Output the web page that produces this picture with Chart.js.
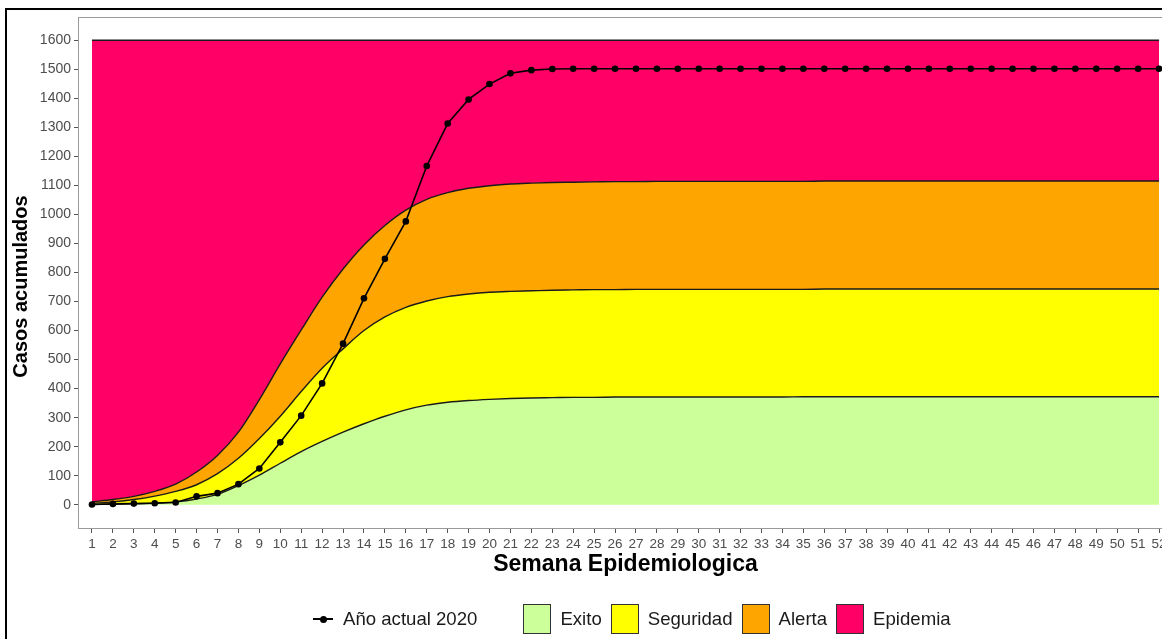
<!DOCTYPE html>
<html>
<head>
<meta charset="utf-8">
<script src="https://cdn.jsdelivr.net/npm/chart.js@4.4.1/dist/chart.umd.min.js"></script>
<style>
  html, body { margin:0; padding:0; background:#fff; overflow:hidden; width:1162px; height:639px; }
  #frame { position:absolute; left:5px; top:8px; width:1300px; height:800px; border:2px solid #000; box-sizing:border-box; }
  #wrap { position:absolute; left:0; top:0; width:1200px; height:639px; }
  #legend { position:absolute; top:604px; left:313px; height:30px; display:flex; align-items:center;
            font-family:"Liberation Sans", Arial, sans-serif; font-size:18.6px; color:#1a1a1a; white-space:nowrap; }
  .lsym { position:relative; width:20px; height:30px; margin-right:10px; }
  .lsym:before { content:""; position:absolute; left:0; right:0; top:14px; height:1.5px; background:#000; }
  .lsym:after { content:""; position:absolute; left:6.5px; top:11.5px; width:7px; height:7px; border-radius:50%; background:#000; }
  .box { width:28px; height:30px; border:1.5px solid #333; box-sizing:border-box; margin-right:9px; }
  .txt { margin-right:9px; }
  .txt0 { margin-right:46px; }
</style>
</head>
<body>
<div id="frame"></div>
<div id="wrap"><canvas id="c" width="1200" height="639"></canvas></div>
<div id="legend"></div>
<script>
// ---- data ----
const weeks = [1,2,3,4,5,6,7,8,9,10,11,12,13,14,15,16,17,18,19,20,21,22,23,24,25,26,
               27,28,29,30,31,32,33,34,35,36,37,38,39,40,41,42,43,44,45,46,47,48,49,50,51,52];
const exito = [1,2,4,6,10,20,36,66,102,143,183,218,250,279,305,327,343,353,359,363,366,368,369,370,370,371,
               371,371,371,371,371,371,371,371,372,372,372,372,372,372,372,372,372,372,372,372,372,372,372,372,372,372];
const seguridad = [5,10,18,30,46,69,107,160,228,305,390,470,537,600,647,680,702,717,726,732,735,737,739,740,741,741,
                   742,742,742,742,742,742,742,742,742,743,743,743,743,743,743,743,743,743,743,743,743,743,743,743,743,743];
const alerta = [10,18,29,46,71,113,170,250,362,485,602,715,812,895,962,1015,1052,1075,1090,1099,1105,1108,1110,1111,1112,1113,
                1113,1114,1114,1114,1114,1114,1114,1114,1114,1115,1115,1115,1115,1115,1115,1115,1115,1115,1115,1115,1115,1115,1115,1115,1115,1115];
const epidemia = [1600,1600,1600,1600,1600,1600,1600,1600,1600,1600,1600,1600,1600,1600,1600,1600,1600,1600,1600,1600,1600,1600,1600,1600,1600,1600,
                  1600,1600,1600,1600,1600,1600,1600,1600,1600,1600,1600,1600,1600,1600,1600,1600,1600,1600,1600,1600,1600,1600,1600,1600,1600,1600];
const actual2020 = [1,3,4,5,8,29,40,71,125,215,307,418,555,711,847,976,1167,1313,1396,1449,1486,1497,1501,1502,1502,1502,
                    1502,1502,1502,1502,1502,1502,1502,1502,1502,1502,1502,1502,1502,1502,1502,1502,1502,1502,1502,1502,1502,1502,1502,1502,1502,1502];
const yTicks = [0,100,200,300,400,500,600,700,800,900,1000,1100,1200,1300,1400,1500,1600];
const bandNames = ['Exito','Seguridad','Alerta','Epidemia'];
const bandColors = ['#CCFF99','#FFFF00','#FFA500','#FF0066'];
const lineName = 'Año actual 2020';
const xTitle = 'Semana Epidemiologica';
const yTitle = 'Casos acumulados';

const FONT = '"Liberation Sans", Arial, sans-serif';
const pts = arr => weeks.map((w, i) => ({x: w, y: arr[i]}));
const bandData = [exito, seguridad, alerta, epidemia];

const datasets = bandNames.map((name, i) => ({
  label: name,
  data: pts(bandData[i]),
  fill: i === 0 ? 'origin' : '-1',
  backgroundColor: bandColors[i],
  borderColor: '#1a1a1a',
  borderWidth: 1.4,
  pointRadius: 0,
  cubicInterpolationMode: 'monotone',
  order: i + 1
}));
datasets.push({
  label: lineName,
  data: pts(actual2020),
  fill: false,
  borderColor: '#000',
  borderWidth: 1.6,
  pointRadius: 3.3,
  pointBackgroundColor: '#000',
  pointBorderWidth: 0,
  tension: 0,
  order: 0
});

const panelBorder = {
  id: 'panelBorder',
  beforeDatasetsDraw(chart) {
    const {ctx, chartArea: a} = chart;
    ctx.save();
    ctx.strokeStyle = '#9a9a9a';
    ctx.lineWidth = 1;
    ctx.strokeRect(Math.round(a.left) - 0.5, Math.round(a.top) + 0.5, a.right - a.left, a.bottom - a.top);
    ctx.restore();
  },
  afterDraw(chart) {
    // y-axis title, placed like the reference (slightly below the panel centre)
    const {ctx, chartArea: a} = chart;
    ctx.save();
    ctx.translate(21, (a.top + a.bottom) / 2 + 14);
    ctx.rotate(-Math.PI / 2);
    ctx.font = 'bold 20px ' + FONT;
    ctx.fillStyle = '#000';
    ctx.textAlign = 'center';
    ctx.textBaseline = 'middle';
    ctx.fillText(yTitle, 0, 0);
    ctx.restore();
  }
};

new Chart(document.getElementById('c'), {
  type: 'line',
  data: { datasets },
  options: {
    responsive: false,
    animation: false,
    layout: { padding: { left: 0, top: 17, right: 28, bottom: 61 } },
    plugins: { legend: { display: false }, tooltip: { enabled: false } },
    scales: {
      x: {
        type: 'linear', min: 0.38, max: 52.62,
        afterBuildTicks: s => { s.ticks = weeks.map(v => ({ value: v })); },
        afterFit: s => { s.height = 50; },
        ticks: { autoSkip: false, maxRotation: 0, minRotation: 0, color: '#4d4d4d', padding: 3,
                 font: { family: FONT, size: 13.5 }, callback: v => String(v) },
        grid: { drawOnChartArea: false, color: '#555', tickLength: 5, tickWidth: 1 },
        border: { display: false },
        title: { display: true, text: xTitle, color: '#000', padding: { top: 0, bottom: 0 },
                 font: { family: FONT, size: 23, weight: 'bold' } }
      },
      y: {
        type: 'linear', min: -80, max: 1680,
        afterBuildTicks: s => { s.ticks = yTicks.map(v => ({ value: v })); },
        afterFit: s => { s.width = 79; },
        ticks: { color: '#4d4d4d', padding: 3, font: { family: FONT, size: 14 }, callback: v => String(v) },
        grid: { drawOnChartArea: false, color: '#555', tickLength: 5, tickWidth: 1 },
        border: { display: false },
        title: { display: false }
      }
    }
  },
  plugins: [panelBorder]
});

// ---- legend ----
const lg = document.getElementById('legend');
const sym = document.createElement('span'); sym.className = 'lsym'; lg.appendChild(sym);
const t0 = document.createElement('span'); t0.className = 'txt0'; t0.textContent = lineName; lg.appendChild(t0);
bandNames.forEach((n, i) => {
  const b = document.createElement('span'); b.className = 'box'; b.style.background = bandColors[i]; lg.appendChild(b);
  const t = document.createElement('span'); t.className = 'txt'; t.textContent = n; lg.appendChild(t);
});
</script>
</body>
</html>
